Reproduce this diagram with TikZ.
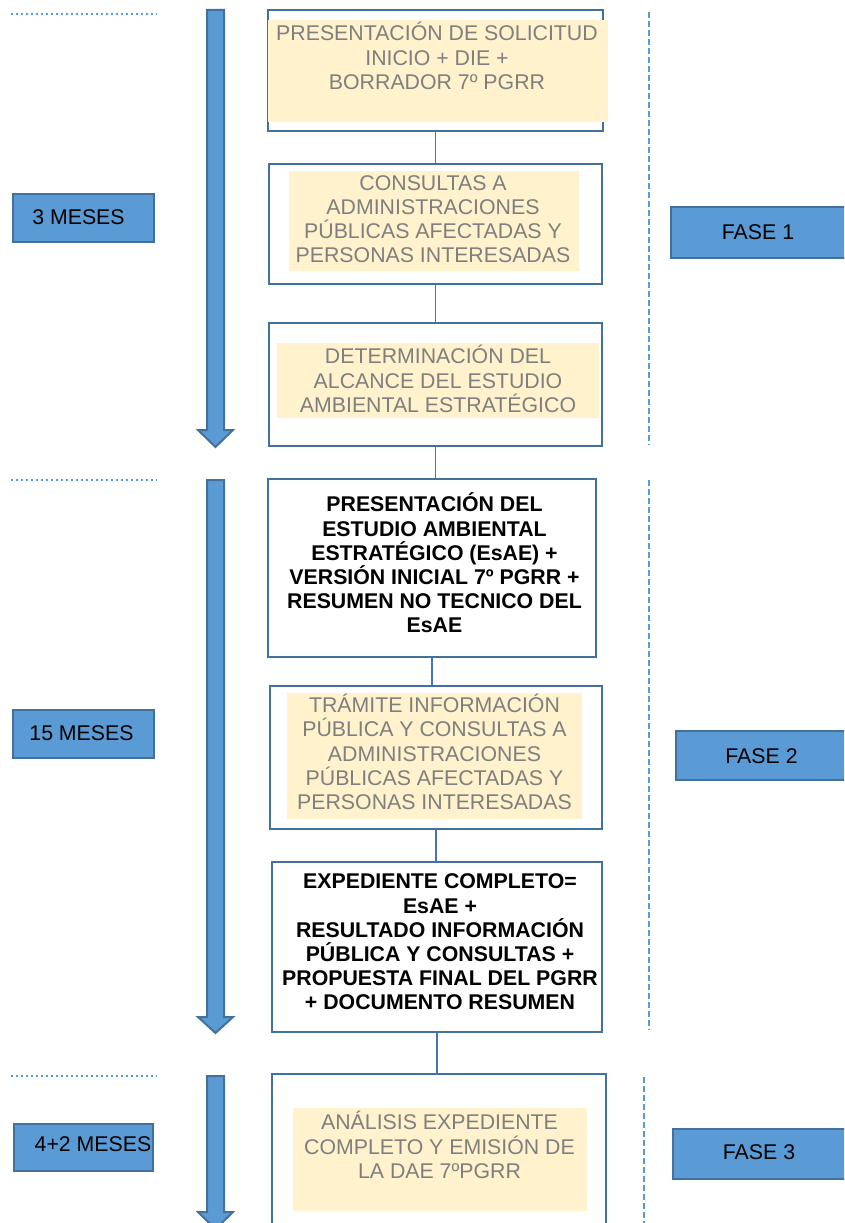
\documentclass[tikz,border=0pt]{standalone}
\usepackage{fontspec}
\setmainfont{Liberation Sans}
\definecolor{fillb}{HTML}{5B9BD5}
\definecolor{edgeb}{HTML}{41719C}
\definecolor{cream}{HTML}{FFF2CC}
\definecolor{txtg}{HTML}{7F7F7F}
\definecolor{conn}{HTML}{4472C4}
\begin{document}
\begin{tikzpicture}[x=1pt,y=-1pt,
  box/.style={draw=edgeb,line width=2.4pt,fill=white,inner sep=0pt},
  creambox/.style={fill=cream,inner sep=0pt},
  gtxt/.style={text=txtg,font=\fontsize{21.3}{24.2}\selectfont,align=center,inner sep=0pt},
  btxt/.style={text=black,font=\fontsize{21.3}{24.2}\selectfont\bfseries,align=center,inner sep=0pt},
  tag/.style={draw=edgeb,line width=2.5pt,fill=fillb,inner sep=0pt},
  tagtxt/.style={text=black,font=\fontsize{21.3}{24.2}\selectfont,inner sep=0pt},
  bigarrow/.style={draw=edgeb,line width=2pt,fill=fillb,line join=miter},
  sep/.style={draw=fillb,line width=2.3pt,dash pattern=on 6pt off 3pt},
  dots/.style={draw=fillb,line width=2.6pt,dash pattern=on 2.2pt off 2.8pt},
  link/.style={draw=conn,line width=1.2pt}]
\useasboundingbox (0,0) rectangle (844,1223);
\clip (0,0) rectangle (844,1223);
% dotted separators
\draw[dots] (11,14) -- (157,14);
\draw[dots] (11,480) -- (157,480);
\draw[dots] (11,1076) -- (157,1076);
% dashed vertical separators
\draw[sep] (649,12) -- (649,445);
\draw[sep] (649,480) -- (649,1030);
\draw[sep] (644,1077) -- (644,1223);
% big arrows
\draw[bigarrow] (207,10) -- (224,10) -- (224,430) -- (233,430) -- (215.5,447) -- (198,430) -- (207,430) -- cycle;
\draw[bigarrow] (207,480) -- (224,480) -- (224,1017) -- (233,1017) -- (215.5,1033) -- (198,1017) -- (207,1017) -- cycle;
\draw[bigarrow] (207,1076) -- (224,1076) -- (224,1212) -- (233,1212) -- (215.5,1229) -- (198,1212) -- (207,1212) -- cycle;
% boxes
\node[box,minimum width=335pt,minimum height=121pt] (b1) at (435.5,70.5) {};
\node[creambox,minimum width=340pt,minimum height=102pt] (c1) at (438,71) {};
\node[gtxt] (t1) at (437,56) {PRESENTACIÓN DE SOLICITUD\\INICIO + DIE +\\BORRADOR 7º PGRR};

\node[box,minimum width=333pt,minimum height=120pt] (b2) at (435.5,224) {};
\node[creambox,minimum width=290pt,minimum height=100pt] (c2) at (434,221) {};
\node[gtxt] (t2) at (433,219) {CONSULTAS A\\ADMINISTRACIONES\\PÚBLICAS AFECTADAS Y\\PERSONAS INTERESADAS};

\node[box,minimum width=333pt,minimum height=123pt] (b3) at (435.5,384.5) {};
\node[creambox,minimum width=322pt,minimum height=75pt] (c3) at (438,380.5) {};
\node[gtxt] (t3) at (438,379) {DETERMINACIÓN DEL\\ALCANCE DEL ESTUDIO\\AMBIENTAL ESTRATÉGICO};

\node[box,minimum width=328pt,minimum height=178pt] (b4) at (432,568) {};
\node[btxt] (t4) at (434.5,563) {PRESENTACIÓN DEL\\ESTUDIO AMBIENTAL\\ESTRATÉGICO (EsAE) +\\VERSIÓN INICIAL 7º PGRR +\\RESUMEN NO TECNICO DEL\\EsAE};

\node[box,minimum width=332pt,minimum height=143pt] (b5) at (436,757.5) {};
\node[creambox,minimum width=295pt,minimum height=126pt] (c5) at (434.5,756) {};
\node[gtxt] (t5) at (434.5,752) {TRÁMITE INFORMACIÓN\\PÚBLICA Y CONSULTAS A\\ADMINISTRACIONES\\PÚBLICAS AFECTADAS Y\\PERSONAS INTERESADAS};

\node[box,minimum width=330pt,minimum height=170pt] (b6) at (437,947) {};
\node[btxt] (t6) at (440,942) {EXPEDIENTE COMPLETO=\\EsAE +\\RESULTADO INFORMACIÓN\\PÚBLICA Y CONSULTAS +\\PROPUESTA FINAL DEL PGRR\\+ DOCUMENTO RESUMEN};

\node[box,minimum width=334pt,minimum height=166pt] (b7) at (439,1157) {};
\node[creambox,minimum width=294pt,minimum height=103pt] (c7) at (440,1159.5) {};
\node[gtxt] (t7) at (439.5,1145) {ANÁLISIS EXPEDIENTE\\COMPLETO Y EMISIÓN DE\\LA DAE 7ºPGRR};
% connectors
\draw[link] (b1.south) -- (b1.south |- b2.north);
\draw[link] (b2.south) -- (b2.south |- b3.north);
\draw[link] (b3.south) -- (b3.south |- b4.north);
\draw[link] (b4.south) -- (b4.south |- b5.north);
\draw[link] (b5.south) -- (b5.south |- b6.north);
\draw[link] (b6.south) -- (b6.south |- b7.north);
% left duration tags
\node[tag,minimum width=141pt,minimum height=48pt] (l1) at (83.5,218) {};
\node[tagtxt] (lt1) at (78.5,217.5) {3 MESES};
\node[tag,minimum width=141pt,minimum height=48pt] (l2) at (83.5,734) {};
\node[tagtxt] (lt2) at (81.5,733) {15 MESES};
\node[tag,minimum width=139pt,minimum height=47pt] (l3) at (83.5,1147.5) {};
\node[tagtxt] (lt3) at (93,1144.5) {4+2 MESES};
% right phase tags
\node[tag,minimum width=180pt,minimum height=51pt] (r1) at (761,232.5) {};
\node[tagtxt] (rt1) at (758,232.5) {FASE 1};
\node[tag,minimum width=175pt,minimum height=49pt] (r2) at (763.5,755.5) {};
\node[tagtxt] (rt2) at (761.5,756.5) {FASE 2};
\node[tag,minimum width=178pt,minimum height=50pt] (r3) at (762,1154) {};
\node[tagtxt] (rt3) at (759,1152.5) {FASE 3};
\end{tikzpicture}
\end{document}
